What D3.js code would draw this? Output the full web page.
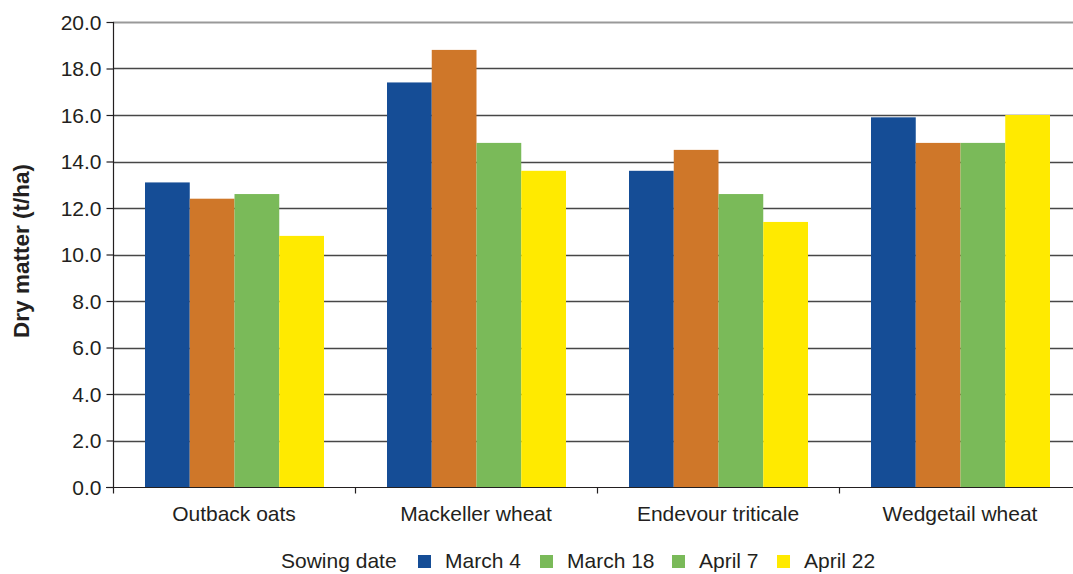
<!DOCTYPE html>
<html>
<head>
<meta charset="utf-8">
<script src="https://cdn.jsdelivr.net/npm/d3@7"></script>
<style>
  body { margin: 0; background: #fff; }
  svg { display: block; font-family: "Liberation Sans", Arial, sans-serif; }
  .tick text { fill: #231f20; }
</style>
</head>
<body>
<div id="chart"></div>
<script>
// Dry matter by variety and sowing date
const varieties = ['Outback oats', 'Mackeller wheat', 'Endevour triticale', 'Wedgetail wheat'];
const sowingDates = ['March 4', 'March 18', 'April 7', 'April 22'];
const march4 = [13.1, 17.4, 13.6, 15.9];
const march18 = [12.4, 18.8, 14.5, 14.8];
const april7 = [12.6, 14.8, 12.6, 14.8];
const april22 = [10.8, 13.6, 11.4, 16.0];
const yTicks = [0, 2, 4, 6, 8, 10, 12, 14, 16, 18, 20];

const seriesValues = [march4, march18, april7, april22];
const barColors = ['#154d96', '#cf7729', '#7aba59', '#ffea00'];
// legend swatches as printed in the original (March 18 shown green)
const legendColors = ['#154d96', '#7aba59', '#7aba59', '#ffea00'];

const width = 1073, height = 574;
const margin = { left: 113, top: 22, right: -8, bottom: 87 };
const fontSize = '21px';

const svg = d3.select('#chart')
    .append('svg')
    .attr('width', width)
    .attr('height', height);

const x = d3.scaleBand()
    .domain(varieties)
    .range([margin.left, width - margin.right])
    .paddingInner(0)
    .paddingOuter(0);

const xInner = d3.scaleBand()
    .domain(sowingDates)
    .range([32, x.bandwidth() - 31]);

const y = d3.scaleLinear()
    .domain([0, 20])
    .range([height - margin.bottom, margin.top]);

// Gridlines
svg.append('g')
    .selectAll('line')
    .data(yTicks.filter(d => d > 0))
    .join('line')
    .attr('x1', margin.left)
    .attr('x2', width - margin.right)
    .attr('y1', d => Math.round(y(d)) + 0.5)
    .attr('y2', d => Math.round(y(d)) + 0.5)
    .attr('stroke', d => d === 20 ? '#999999' : '#474747')
    .attr('stroke-width', d => d === 20 ? 1.8 : 1.3);

// Bars
const groups = svg.append('g')
    .selectAll('g')
    .data(varieties)
    .join('g')
    .attr('transform', d => `translate(${x(d)},0)`);

groups.selectAll('rect')
    .data((d, i) => sowingDates.map((s, j) => ({ key: s, value: seriesValues[j][i], color: barColors[j] })))
    .join('rect')
    .attr('x', d => xInner(d.key))
    .attr('width', xInner.bandwidth())
    .attr('y', d => y(d.value))
    .attr('height', d => y(0) - y(d.value))
    .attr('fill', d => d.color);

// Y axis
const yAxis = svg.append('g')
    .attr('transform', `translate(${margin.left + 0.5},0)`)
    .call(d3.axisLeft(y).tickValues(yTicks).tickFormat(d3.format('.1f')).tickSize(7).tickPadding(5));
yAxis.selectAll('text').style('font-size', fontSize).attr('dy', '0.35em');
yAxis.selectAll('line, path').attr('stroke', '#231f20').attr('stroke-width', 1.2);
yAxis.select('.domain').attr('d', `M0,${y(20)}V${y(0)}`);

// X axis
const xAxis = svg.append('g')
    .attr('transform', `translate(0,${Math.round(y(0)) + 0.5})`);
xAxis.append('line')
    .attr('x1', margin.left - 7)
    .attr('x2', width - margin.right)
    .attr('stroke', '#231f20')
    .attr('stroke-width', 1.2);
xAxis.selectAll('line.tick')
    .data(varieties)
    .join('line')
    .attr('class', 'tick')
    .attr('x1', d => Math.round(x(d)) + 0.5)
    .attr('x2', d => Math.round(x(d)) + 0.5)
    .attr('y1', 0)
    .attr('y2', 6)
    .attr('stroke', '#231f20')
    .attr('stroke-width', 1.2);
xAxis.selectAll('text')
    .data(varieties)
    .join('text')
    .attr('x', d => x(d) + x.bandwidth() / 2)
    .attr('y', 33)
    .attr('text-anchor', 'middle')
    .style('font-size', fontSize)
    .attr('fill', '#231f20')
    .text(d => d);

// Y label
svg.append('text')
    .attr('transform', `translate(29,251) rotate(-90)`)
    .attr('text-anchor', 'middle')
    .style('font-size', '22.5px')
    .style('font-weight', 'bold')
    .attr('fill', '#231f20')
    .text('Dry matter (t/ha)');

// Legend
const legend = svg.append('g').attr('transform', 'translate(0,568)');
legend.append('text')
    .attr('x', 281)
    .attr('y', 0)
    .style('font-size', fontSize)
    .attr('fill', '#231f20')
    .text('Sowing date');
const legendX = [418, 540, 672, 777];
const items = legend.selectAll('g.item')
    .data(sowingDates)
    .join('g')
    .attr('class', 'item')
    .attr('transform', (d, i) => `translate(${legendX[i]},0)`);
items.append('rect')
    .attr('x', 0)
    .attr('y', -13)
    .attr('width', 13)
    .attr('height', 13)
    .attr('fill', (d, i) => legendColors[i]);
items.append('text')
    .attr('x', 27)
    .attr('y', 0)
    .style('font-size', fontSize)
    .attr('fill', '#231f20')
    .text(d => d);
</script>
</body>
</html>
